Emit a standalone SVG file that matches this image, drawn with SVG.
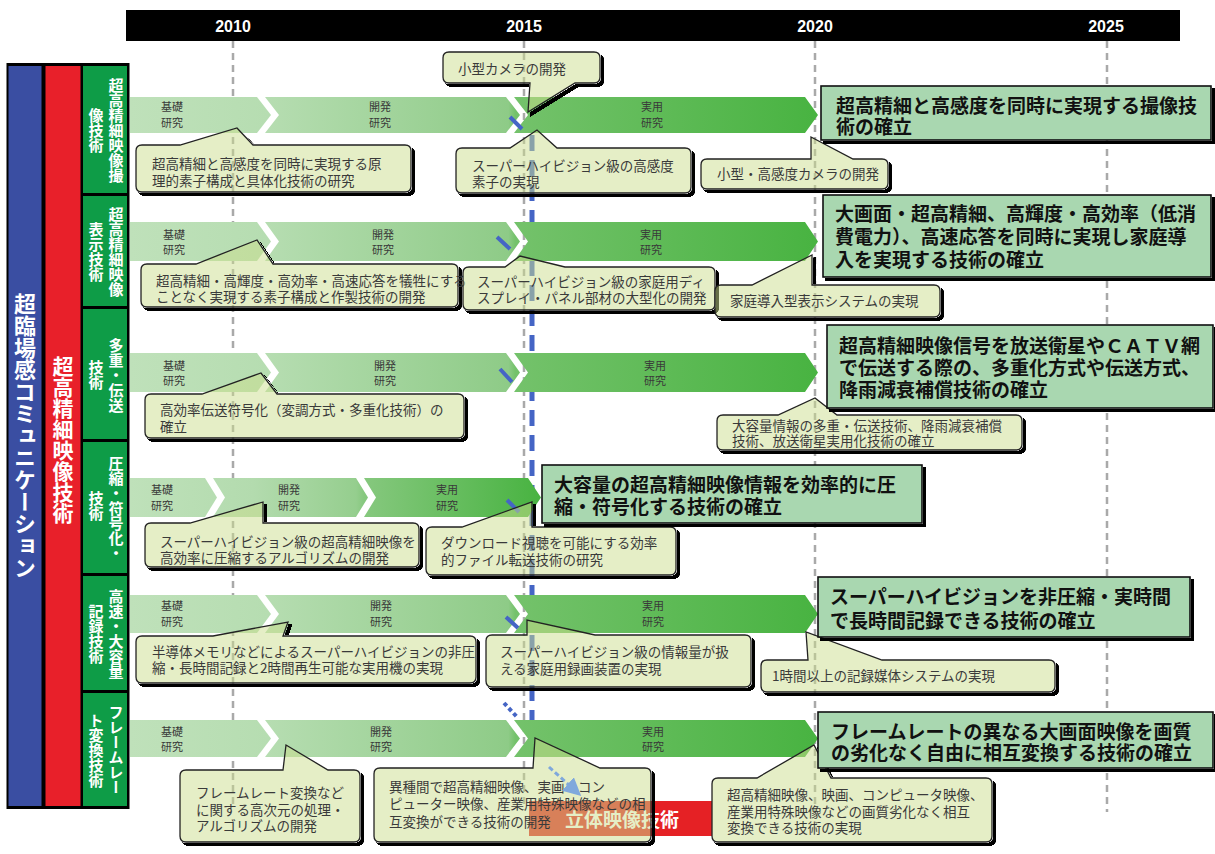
<svg xmlns="http://www.w3.org/2000/svg" width="1215" height="854" viewBox="0 0 1215 854">
<style>
text { font-family: "Noto Sans CJK JP", "Noto Sans CJK SC", sans-serif; }
.yr { fill:#fff; font-family:"Liberation Sans", Arial, sans-serif; font-weight:700; font-size:16px; text-anchor:middle; }
.vt { writing-mode: vertical-rl; text-anchor:middle; fill:#fff; font-weight:700; }
.grid { stroke:#a9a9a9; stroke-width:2.5; stroke-dasharray:7 5; fill:none; }
.bl { font-size:11px; fill:#3a3a3a; text-anchor:middle; }
.co { fill:#cbdd8d; fill-opacity:0.5; stroke:#222; stroke-width:1.3; filter:url(#sh); }
.ct { font-size:13.5px; fill:#3a3a3a; }
.gb { fill:#a9d7b0; stroke:#111; stroke-width:1.6; filter:url(#sh); }
.gt { font-size:19px; font-weight:700; fill:#111; }
.mark { stroke:#4565c5; stroke-width:4; fill:none; }
</style>
<defs>
<filter id="sh" x="-0.05" y="-0.1" width="1.1" height="1.3">
<feComponentTransfer in="SourceAlpha" result="a"><feFuncA type="linear" slope="20"/></feComponentTransfer>
<feOffset in="a" dx="2.5" dy="2.5" result="o"/>
<feComposite in="o" in2="a" operator="out" result="s"/>
<feMerge><feMergeNode in="s"/><feMergeNode in="SourceGraphic"/></feMerge>
</filter>
<linearGradient id="g1" gradientUnits="userSpaceOnUse" x1="130" y1="0" x2="818" y2="0">
<stop offset="0" stop-color="#bfe1ba"/><stop offset="0.2" stop-color="#b6ddb1"/><stop offset="0.55" stop-color="#8ecb87"/><stop offset="0.56" stop-color="#74c26b"/><stop offset="1" stop-color="#48b341"/>
</linearGradient>
<linearGradient id="g4" gradientUnits="userSpaceOnUse" x1="130" y1="0" x2="541" y2="0">
<stop offset="0" stop-color="#bfe1ba"/><stop offset="0.3" stop-color="#b3dbae"/><stop offset="0.55" stop-color="#95ce8e"/><stop offset="0.57" stop-color="#86c87e"/><stop offset="1" stop-color="#48b341"/>
</linearGradient>
<marker id="ah" markerWidth="6" markerHeight="6" refX="5" refY="3" orient="auto" markerUnits="strokeWidth"><path d="M0,0 L6,3 L0,6 Z" fill="#7fa8dc"/></marker>
</defs>
<rect width="1215" height="854" fill="#fff"/>

<g id="timeline">
<rect x="126" y="10" width="1054" height="31" fill="#000"/>
<text class="yr" x="233" y="32">2010</text>
<text class="yr" x="524" y="32">2015</text>
<text class="yr" x="815" y="32">2020</text>
<text class="yr" x="1106" y="32">2025</text>
<path class="grid" d="M233,41 V808 M524,41 V810 M815,41 V812 M1107,41 V812"/>
</g>

<g id="connectors">
<path d="M532,135 V722" stroke="#4565c5" stroke-width="5" stroke-dasharray="16 9" fill="none"/>
</g>

<g id="left-columns">
<rect x="6.5" y="63" width="123" height="746" fill="#000"/>
<rect x="8.5" y="66" width="33" height="740" fill="#3a4ea2"/>
<rect x="45.5" y="66" width="35" height="740" fill="#e8202a"/>
<text class="vt" x="25" y="436" font-size="22">超臨場感コミュニケーション</text>
<text class="vt" x="63" y="440" font-size="21">超高精細映像技術</text>
</g>

<g id="row-labels" fill="#0e9c47">
<g id="lbl1"><rect x="83" y="66" width="44" height="127"/><text class="vt" x="116" y="130" font-size="15">超高精細映像撮</text><text class="vt" x="96" y="130" font-size="15">像技術</text></g>
<g id="lbl2"><rect x="83" y="196" width="44" height="110"/><text class="vt" x="116" y="252" font-size="15">超高精細映像</text><text class="vt" x="96" y="252" font-size="15">表示技術</text></g>
<g id="lbl3"><rect x="83" y="309" width="44" height="130"/><text class="vt" x="116" y="375" font-size="15">多重・伝送</text><text class="vt" x="96" y="375" font-size="15">技術</text></g>
<g id="lbl4"><rect x="83" y="442" width="44" height="131"/><text class="vt" x="116" y="508" font-size="15">圧縮・符号化・</text><text class="vt" x="96" y="506" font-size="15">技術</text></g>
<g id="lbl5"><rect x="83" y="576" width="44" height="114"/><text class="vt" x="116" y="634" font-size="15">高速・大容量</text><text class="vt" x="96" y="634" font-size="15">記録技術</text></g>
<g id="lbl6"><rect x="83" y="693" width="44" height="113"/><text class="vt" x="116" y="750" font-size="15">フレームレー</text><text class="vt" x="96" y="750" font-size="15">ト変換技術</text></g>
</g>

<g id="bands">
<g id="band1" fill="url(#g1)">
<polygon points="130,97 257,97 271,115 257,133 130,133"/>
<polygon points="265,97 506,97 520,115 506,133 265,133 279,115"/>
<polygon points="514,97 805,97 818,115 805,133 514,133 528,115"/>
<text class="bl" x="172" y="111">基礎<tspan x="172" dy="16">研究</tspan></text>
<text class="bl" x="380" y="111">開発<tspan x="380" dy="16">研究</tspan></text>
<text class="bl" x="652" y="111">実用<tspan x="652" dy="16">研究</tspan></text>
</g>
<g id="band2" fill="url(#g1)">
<polygon points="130,222 257,222 271,241.5 257,261 130,261"/>
<polygon points="265,222 506,222 520,241.5 506,261 265,261 279,241.5"/>
<polygon points="514,222 805,222 818,241.5 805,261 514,261 528,241.5"/>
<text class="bl" x="174" y="239">基礎<tspan x="174" dy="15">研究</tspan></text>
<text class="bl" x="383" y="239">開発<tspan x="383" dy="15">研究</tspan></text>
<text class="bl" x="651" y="239">実用<tspan x="651" dy="15">研究</tspan></text>
</g>
<g id="band3" fill="url(#g1)">
<polygon points="130,353 257,353 271,372.5 257,392 130,392"/>
<polygon points="265,353 506,353 520,372.5 506,392 265,392 279,372.5"/>
<polygon points="514,353 805,353 818,372.5 805,392 514,392 528,372.5"/>
<text class="bl" x="174" y="370">基礎<tspan x="174" dy="15">研究</tspan></text>
<text class="bl" x="385" y="370">開発<tspan x="385" dy="15">研究</tspan></text>
<text class="bl" x="655" y="370">実用<tspan x="655" dy="15">研究</tspan></text>
</g>
<g id="band4" fill="url(#g4)">
<polygon points="130,478 205,478 217,497.5 205,517 130,517"/>
<polygon points="213,478 356,478 368,497.5 356,517 213,517 225,497.5"/>
<polygon points="364,478 528,478 541,497.5 528,517 364,517 376,497.5"/>
<text class="bl" x="162" y="494">基礎<tspan x="162" dy="16">研究</tspan></text>
<text class="bl" x="289" y="494">開発<tspan x="289" dy="16">研究</tspan></text>
<text class="bl" x="447" y="494">実用<tspan x="447" dy="16">研究</tspan></text>
</g>
<g id="band5" fill="url(#g1)">
<polygon points="130,595 257,595 271,614 257,633 130,633"/>
<polygon points="265,595 506,595 520,614 506,633 265,633 279,614"/>
<polygon points="514,595 805,595 818,614 805,633 514,633 528,614"/>
<text class="bl" x="172" y="610">基礎<tspan x="172" dy="16">研究</tspan></text>
<text class="bl" x="381" y="610">開発<tspan x="381" dy="16">研究</tspan></text>
<text class="bl" x="653" y="610">実用<tspan x="653" dy="16">研究</tspan></text>
</g>
<g id="band6" fill="url(#g1)">
<polygon points="130,720 257,720 271,738.5 257,757 130,757"/>
<polygon points="265,720 506,720 520,738.5 506,757 265,757 279,738.5"/>
<polygon points="514,720 805,720 818,738.5 805,757 514,757 528,738.5"/>
<text class="bl" x="172" y="736">基礎<tspan x="172" dy="15">研究</tspan></text>
<text class="bl" x="381" y="736">開発<tspan x="381" dy="15">研究</tspan></text>
<text class="bl" x="653" y="736">実用<tspan x="653" dy="15">研究</tspan></text>
</g>
</g>

<g id="marks">
<path class="mark" d="M510,117 L522,129 M497,237 L510,249 M500,369 L512,382 M507,500 L519,512 M506,617 L518,628"/>
<path class="mark" d="M504,703 L517,717" stroke-dasharray="4 3"/>
</g>

<g id="stereo">
<rect x="529" y="801" width="183" height="35" fill="#e52125"/>
<text x="565" y="827" font-size="19" font-weight="700" fill="#fff">立体映像技術</text>
</g>

<g id="callouts">
<g id="c1a"><path class="co" d="M449,52 H594 Q600,52 600,58 V77 Q600,83 594,83 H575 L528,112 L530,83 H449 Q443,83 443,77 V58 Q443,52 449,52 Z"/><text class="ct" x="458" y="74">小型カメラの開発</text></g>
<g id="c1b"><path class="co" d="M142,145 H180 L237,128 L253,145 H405 Q411,145 411,151 V186 Q411,192 405,192 H142 Q136,192 136,186 V151 Q136,145 142,145 Z"/><text class="ct" x="152" y="169" font-size="14">超高精細と高感度を同時に実現する原<tspan x="152" dy="17">理的素子構成と具体化技術の研究</tspan></text></g>
<g id="c1c"><path class="co" d="M462,148 H510 L537,130 L557,148 H685 Q691,148 691,154 V187 Q691,193 685,193 H462 Q456,193 456,187 V154 Q456,148 462,148 Z"/><text class="ct" x="472" y="171">スーパーハイビジョン級の高感度<tspan x="472" dy="16">素子の実現</tspan></text></g>
<g id="c1d"><path class="co" d="M707,159 H811 L811,137 L853,159 H882 Q888,159 888,165 V183 Q888,189 882,189 H707 Q701,189 701,183 V165 Q701,159 707,159 Z"/><text class="ct" x="717" y="179">小型・高感度カメラの開発</text></g>

<g id="c2a"><path class="co" d="M147,264 H196 L257,240 L273,264 H452 Q458,264 458,270 V301 Q458,307 452,307 H147 Q141,307 141,301 V270 Q141,264 147,264 Z"/><text class="ct" x="156" y="286" font-size="12.2">超高精細・高輝度・高効率・高速応答を犠牲にする<tspan x="156" dy="16">ことなく実現する素子構成と作製技術の開発</tspan></text></g>
<g id="c2b"><path class="co" d="M469,267 H505 L520,256 L565,267 H709 Q715,267 715,273 V304 Q715,310 709,310 H469 Q463,310 463,304 V273 Q463,267 469,267 Z"/><text class="ct" x="477" y="287" font-size="13">スーパーハイビジョン級の家庭用ディ<tspan x="477" dy="16">スプレイ・パネル部材の大型化の開発</tspan></text></g>
<g id="c2c"><path class="co" d="M721,285 H752 L812,255 L812,285 H934 Q940,285 940,291 V311 Q940,317 934,317 H721 Q715,317 715,311 V291 Q715,285 721,285 Z"/><text class="ct" x="730" y="306">家庭導入型表示システムの実現</text></g>

<g id="c3a"><path class="co" d="M151,394 H202 L261,373 L277,394 H458 Q464,394 464,400 V432 Q464,438 458,438 H151 Q145,438 145,432 V400 Q145,394 151,394 Z"/><text class="ct" x="160" y="415" font-size="13.3">高効率伝送符号化（変調方式・多重化技術）の<tspan x="160" dy="17">確立</tspan></text></g>
<g id="c3b"><path class="co" d="M723,415 H778 L815,398 L837,415 H1016 Q1022,415 1022,421 V444 Q1022,450 1016,450 H723 Q717,450 717,444 V421 Q717,415 723,415 Z"/><text class="ct" x="732" y="431" font-size="13.3">大容量情報の多重・伝送技術、降雨減衰補償<tspan x="732" dy="15">技術、放送衛星実用化技術の確立</tspan></text></g>

<g id="c4a"><path class="co" d="M151,523 H190 L263,502 L263,523 H413 Q419,523 419,529 V561 Q419,567 413,567 H151 Q145,567 145,561 V529 Q145,523 151,523 Z"/><text class="ct" x="160" y="547" font-size="13">スーパーハイビジョン級の超高精細映像を<tspan x="160" dy="16">高効率に圧縮するアルゴリズムの開発</tspan></text></g>
<g id="c4b"><path class="co" d="M432,527 H462 L532,502 L532,527 H670 Q676,527 676,533 V569 Q676,575 670,575 H432 Q426,575 426,569 V533 Q426,527 432,527 Z"/><text class="ct" x="441" y="548">ダウンロード視聴を可能にする効率<tspan x="441" dy="17">的ファイル転送技術の研究</tspan></text></g>

<g id="c5a"><path class="co" d="M142,636 H213 L288,622 L283,636 H470 Q476,636 476,642 V677 Q476,683 470,683 H142 Q136,683 136,677 V642 Q136,636 142,636 Z"/><text class="ct" x="152" y="657" font-size="12.3">半導体メモリなどによるスーパーハイビジョンの非圧<tspan x="152" dy="16">縮・長時間記録と2時間再生可能な実用機の実現</tspan></text></g>
<g id="c5b"><path class="co" d="M492,635 H527 L527,620 L595,635 H745 Q751,635 751,641 V681 Q751,687 745,687 H492 Q486,687 486,681 V641 Q486,635 492,635 Z"/><text class="ct" x="500" y="657">スーパーハイビジョン級の情報量が扱<tspan x="500" dy="17">える家庭用録画装置の実現</tspan></text></g>
<g id="c5c"><path class="co" d="M767,660 H808 L806,632 L882,660 H1049 Q1055,660 1055,666 V686 Q1055,692 1049,692 H767 Q761,692 761,686 V666 Q761,660 767,660 Z"/><text class="ct" x="772" y="681">1時間以上の記録媒体システムの実現</text></g>

<g id="c6a"><path class="co" d="M186,770 H283 L286,745 L328,770 H354 Q360,770 360,776 V836 Q360,842 354,842 H186 Q180,842 180,836 V776 Q180,770 186,770 Z"/><text class="ct" x="196" y="798" font-size="13">フレームレート変換など<tspan x="196" dy="17">に関する高次元の処理・</tspan><tspan x="196" dy="16">アルゴリズムの開発</tspan></text></g>
<g id="c6b"><path class="co" d="M380,768 H533 L535,738 L600,768 H645 Q651,768 651,774 V836 Q651,842 645,842 H380 Q374,842 374,836 V774 Q374,768 380,768 Z"/><text class="ct" x="389" y="792" font-size="13.2">異種間で超高精細映像、実画・コン<tspan x="389" dy="17">ピューター映像、産業用特殊映像などの相</tspan><tspan x="389" dy="18">互変換ができる技術の開発</tspan></text></g>
<g id="c6c"><path class="co" d="M718,778 H757 L814,745 L831,778 H986 Q992,778 992,784 V836 Q992,842 986,842 H718 Q712,842 712,836 V784 Q712,778 718,778 Z"/><text class="ct" x="727" y="800" font-size="12.5">超高精細映像、映画、コンピュータ映像、<tspan x="727" dy="17">産業用特殊映像などの画質劣化なく相互</tspan><tspan x="727" dy="16">変換できる技術の実現</tspan></text></g>
<path d="M549,767 L579,794" stroke="#7fa8dc" stroke-width="3" stroke-dasharray="5 3" fill="none" marker-end="url(#ah)"/>
</g>

<g id="goals">
<g id="goal1"><rect class="gb" x="821" y="86" width="390" height="54"/><text class="gt" x="836" y="113">超高精細と高感度を同時に実現する撮像技<tspan x="836" dy="21">術の確立</tspan></text></g>
<g id="goal2"><rect class="gb" x="823" y="195" width="388" height="82"/><text class="gt" x="835" y="221">大画面・超高精細、高輝度・高効率（低消<tspan x="835" dy="23">費電力）、高速応答を同時に実現し家庭導</tspan><tspan x="835" dy="23">入を実現する技術の確立</tspan></text></g>
<g id="goal3"><rect class="gb" x="827" y="325" width="386" height="83"/><text class="gt" x="839" y="353">超高精細映像信号を放送衛星やＣＡＴＶ網<tspan x="839" dy="22">で伝送する際の、多重化方式や伝送方式、</tspan><tspan x="839" dy="22">降雨減衰補償技術の確立</tspan></text></g>
<g id="goal4"><rect class="gb" x="542" y="465" width="380" height="58"/><text class="gt" x="554" y="492">大容量の超高精細映像情報を効率的に圧<tspan x="554" dy="22">縮・符号化する技術の確立</tspan></text></g>
<g id="goal5"><rect class="gb" x="818" y="577" width="372" height="60"/><text class="gt" x="830" y="604">スーパーハイビジョンを非圧縮・実時間<tspan x="830" dy="24">で長時間記録できる技術の確立</tspan></text></g>
<g id="goal6"><rect class="gb" x="818" y="712" width="395" height="56"/><text class="gt" x="831" y="739">フレームレートの異なる大画面映像を画質<tspan x="831" dy="21">の劣化なく自由に相互変換する技術の確立</tspan></text></g>
</g>
</svg>
